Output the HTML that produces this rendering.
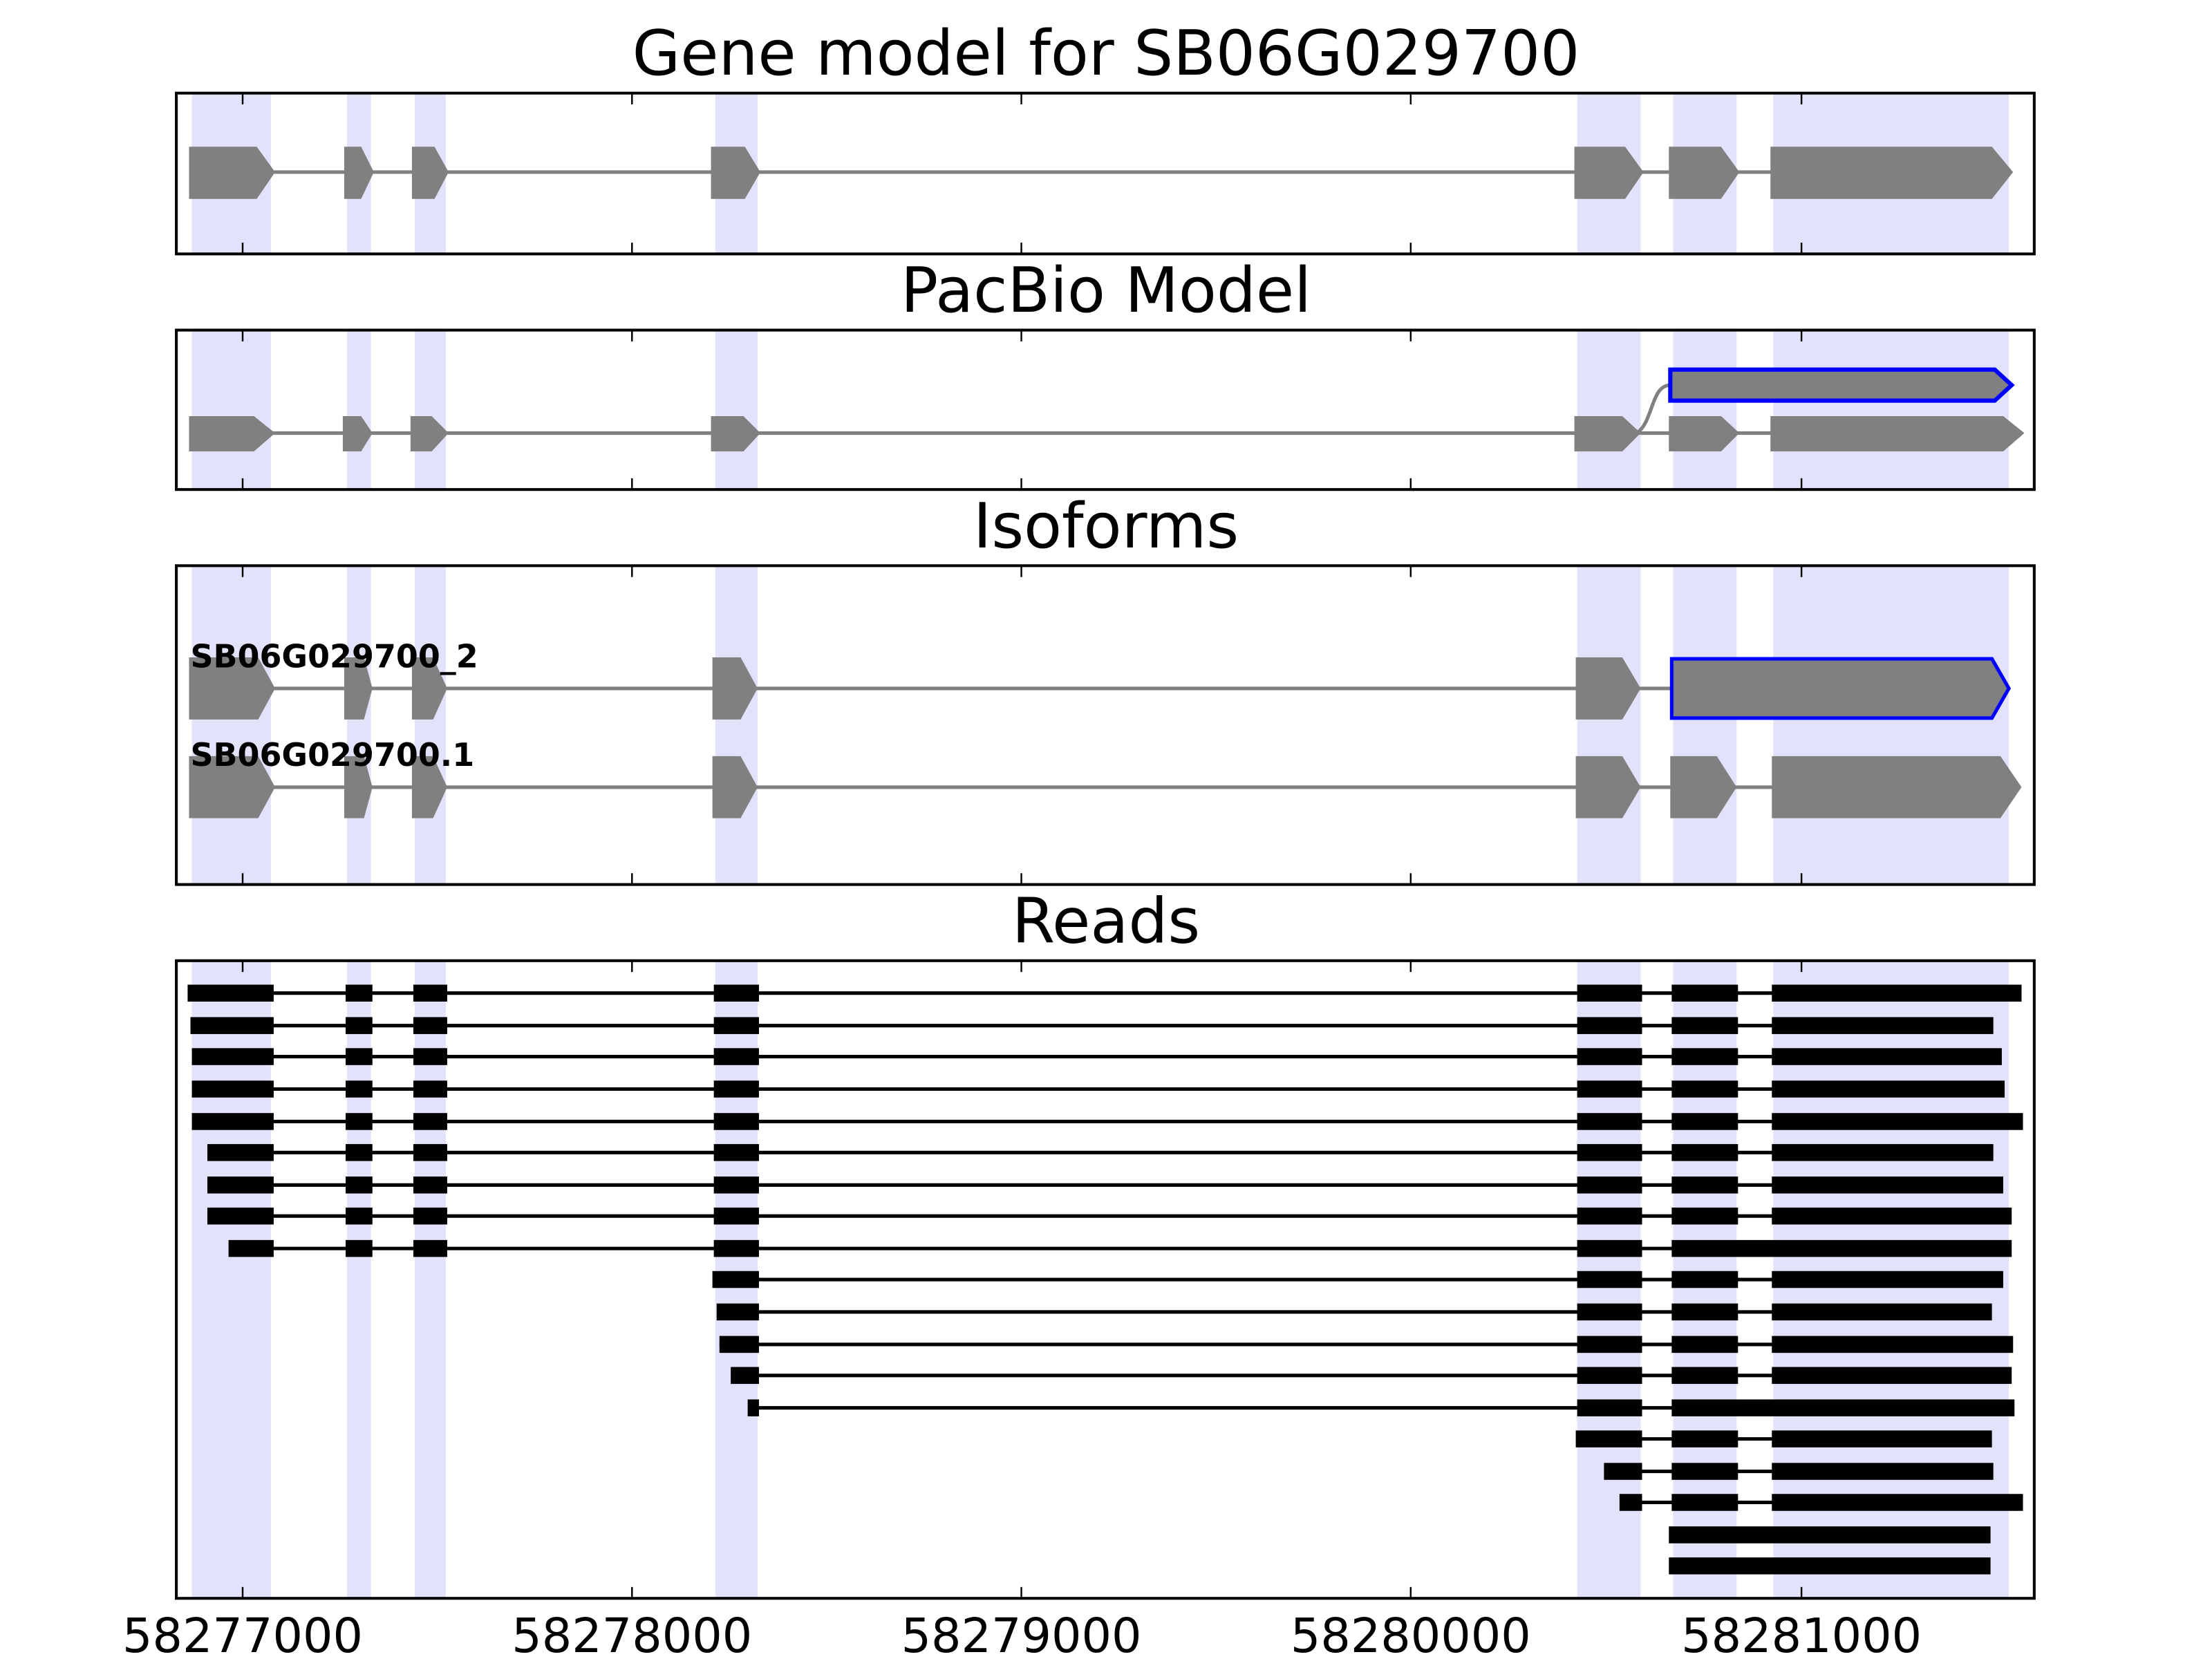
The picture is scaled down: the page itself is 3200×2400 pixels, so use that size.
<!DOCTYPE html>
<html><head><meta charset="utf-8"><style>html,body{margin:0;padding:0;background:#fff}svg{display:block}</style></head>
<body>
<svg width="3200" height="2400" viewBox="0 0 1568 1176" xmlns="http://www.w3.org/2000/svg" font-family="DejaVu Sans, Liberation Sans, sans-serif">
<rect width="1568" height="1176" fill="#fff"/>
<defs>
<g id="shade">
<rect x="136" y="0" width="56" height="1" /><rect x="246" y="0" width="17" height="1"/><rect x="294" y="0" width="22" height="1"/><rect x="507" y="0" width="30" height="1"/><rect x="1118" y="0" width="45" height="1"/><rect x="1186" y="0" width="45" height="1"/><rect x="1257" y="0" width="167" height="1"/>
</g>
</defs>
<g fill="#e2e2fb">
<use href="#shade" transform="translate(0,66) scale(1,114)"/>
<use href="#shade" transform="translate(0,234) scale(1,113)"/>
<use href="#shade" transform="translate(0,401) scale(1,226)"/>
<use href="#shade" transform="translate(0,681) scale(1,452)"/>
</g>
<g font-size="44" text-anchor="middle" fill="#000">
<text x="784" y="53">Gene model for SB06G029700</text>
<text x="784" y="221">PacBio Model</text>
<text x="784" y="388">Isoforms</text>
<text x="784" y="668">Reads</text>
</g>
<!-- Panel 1 -->
<g stroke="#808080" stroke-width="2.5"><line x1="180" y1="122" x2="1420" y2="122"/></g>
<g fill="#808080">
<polygon points="134,104 182,104 195,122 182,141 134,141"/>
<polygon points="244,104 256,104 265,122 256,141 244,141"/>
<polygon points="292,104 308,104 318,122 308,141 292,141"/>
<polygon points="504,104 528,104 539,122 528,141 504,141"/>
<polygon points="1116,104 1152,104 1165,122 1152,141 1116,141"/>
<polygon points="1183,104 1220,104 1233,122 1220,141 1183,141"/>
<polygon points="1255,104 1412,104 1427,122 1412,141 1255,141"/>
</g>
<!-- Panel 2 -->
<g stroke="#808080" stroke-width="2.5" fill="none"><line x1="180" y1="307" x2="1420" y2="307"/><path d="M1160,307 C1172,300 1170,273 1184,273"/></g>
<g fill="#808080">
<polygon points="134,295 180,295 195,307 180,320 134,320"/>
<polygon points="243,295 256,295 264,307 256,320 243,320"/>
<polygon points="291,295 306,295 318,307 306,320 291,320"/>
<polygon points="504,295 527,295 539,307 527,320 504,320"/>
<polygon points="1116,295 1150,295 1163,307 1150,320 1116,320"/>
<polygon points="1183,295 1220,295 1233,307 1220,320 1183,320"/>
<polygon points="1255,295 1420,295 1435,307 1420,320 1255,320"/>
<polygon points="1184,262 1414,262 1426,273 1414,284 1184,284" stroke="#0000ff" stroke-width="3"/>
</g>
<!-- Panel 3 -->
<g stroke="#808080" stroke-width="2.5"><line x1="180" y1="488" x2="1190" y2="488"/><line x1="180" y1="558" x2="1420" y2="558"/></g>
<g fill="#808080">
<polygon points="134,466 183,466 195,488 183,510 134,510"/>
<polygon points="244,466 258,466 264,488 258,510 244,510"/>
<polygon points="292,466 307,466 317,488 307,510 292,510"/>
<polygon points="505,466 525,466 537,488 525,510 505,510"/>
<polygon points="1117,466 1150,466 1163,488 1150,510 1117,510"/>
<polygon points="1185,467 1412,467 1424,488 1412,509 1185,509" stroke="#0000ff" stroke-width="2.5"/>
<polygon points="134,536 183,536 195,558 183,580 134,580"/>
<polygon points="244,536 258,536 264,558 258,580 244,580"/>
<polygon points="292,536 307,536 317,558 307,580 292,580"/>
<polygon points="505,536 525,536 537,558 525,580 505,580"/>
<polygon points="1117,536 1150,536 1163,558 1150,580 1117,580"/>
<polygon points="1184,536 1217,536 1231,558 1217,580 1184,580"/>
<polygon points="1256,536 1418,536 1433,558 1418,580 1256,580"/>
</g>
<g font-size="22.5" font-weight="bold" fill="#000">
<text x="135" y="473">SB06G029700_2</text>
<text x="135" y="543">SB06G029700.1</text>
</g>
<!-- Reads -->
<g fill="#000" stroke="#000" stroke-width="2.5">
<line x1="150" y1="704" x2="1420" y2="704"/>
<line x1="150" y1="727" x2="1410" y2="727"/>
<line x1="150" y1="749" x2="1410" y2="749"/>
<line x1="150" y1="772" x2="1410" y2="772"/>
<line x1="150" y1="795" x2="1410" y2="795"/>
<line x1="150" y1="817" x2="1410" y2="817"/>
<line x1="150" y1="840" x2="1410" y2="840"/>
<line x1="150" y1="862" x2="1410" y2="862"/>
<line x1="165" y1="885" x2="1410" y2="885"/>
<line x1="510" y1="907" x2="1410" y2="907"/>
<line x1="510" y1="930" x2="1410" y2="930"/>
<line x1="510" y1="953" x2="1410" y2="953"/>
<line x1="520" y1="975" x2="1410" y2="975"/>
<line x1="532" y1="998" x2="1410" y2="998"/>
<line x1="1120" y1="1020" x2="1400" y2="1020"/>
<line x1="1140" y1="1043" x2="1400" y2="1043"/>
<line x1="1150" y1="1065" x2="1400" y2="1065"/>
</g>
<g fill="#000" id="reads"></g>
<script>
(function(){
var ys=[704,727,749,772,795,817,840,862,885,907,930,953,975,998,1020,1043,1065,1088,1110];
var std=[[245,264],[293,317],[506,538],[1118,1164],[1185,1232]];
var rows=[
[[133,194]].concat(std,[[1256,1433]]),
[[135,194]].concat(std,[[1256,1413]]),
[[136,194]].concat(std,[[1256,1419]]),
[[136,194]].concat(std,[[1256,1421]]),
[[136,194]].concat(std,[[1256,1434]]),
[[147,194]].concat(std,[[1256,1413]]),
[[147,194]].concat(std,[[1256,1420]]),
[[147,194]].concat(std,[[1256,1426]]),
[[162,194],[245,264],[293,317],[506,538],[1118,1164],[1185,1426]],
[[505,538],[1118,1164],[1185,1232],[1256,1420]],
[[508,538],[1118,1164],[1185,1232],[1256,1412]],
[[510,538],[1118,1164],[1185,1232],[1256,1427]],
[[518,538],[1118,1164],[1185,1232],[1256,1426]],
[[530,538],[1118,1164],[1185,1428]],
[[1117,1164],[1185,1232],[1256,1412]],
[[1137,1164],[1185,1232],[1256,1413]],
[[1148,1164],[1185,1232],[1256,1434]],
[[1183,1411]],
[[1183,1411]]
];
var g=document.getElementById('reads'),ns='http://www.w3.org/2000/svg';
rows.forEach(function(r,i){r.forEach(function(b){var e=document.createElementNS(ns,'rect');e.setAttribute('x',b[0]);e.setAttribute('y',ys[i]-6);e.setAttribute('width',b[1]-b[0]);e.setAttribute('height',12);g.appendChild(e);});});
})();
</script>
<!-- axes frames -->
<g fill="none" stroke="#000" stroke-width="2">
<rect x="125" y="66" width="1317" height="114"/>
<rect x="125" y="234" width="1317" height="113"/>
<rect x="125" y="401" width="1317" height="226"/>
<rect x="125" y="681" width="1317" height="452"/>
</g>
<g stroke="#000" stroke-width="1.2">
<path d="M172,66v8M448,66v8M724,66v8M1000,66v8M1277,66v8M172,180v-8M448,180v-8M724,180v-8M1000,180v-8M1277,180v-8"/>
<path d="M172,234v8M448,234v8M724,234v8M1000,234v8M1277,234v8M172,347v-8M448,347v-8M724,347v-8M1000,347v-8M1277,347v-8"/>
<path d="M172,401v8M448,401v8M724,401v8M1000,401v8M1277,401v8M172,627v-8M448,627v-8M724,627v-8M1000,627v-8M1277,627v-8"/>
<path d="M172,681v8M448,681v8M724,681v8M1000,681v8M1277,681v8M172,1133v-8M448,1133v-8M724,1133v-8M1000,1133v-8M1277,1133v-8"/>
</g>
<g font-size="33.5" text-anchor="middle" fill="#000">
<text x="172" y="1171">58277000</text>
<text x="448" y="1171">58278000</text>
<text x="724" y="1171">58279000</text>
<text x="1000" y="1171">58280000</text>
<text x="1277" y="1171">58281000</text>
</g>
</svg>
</body></html>
